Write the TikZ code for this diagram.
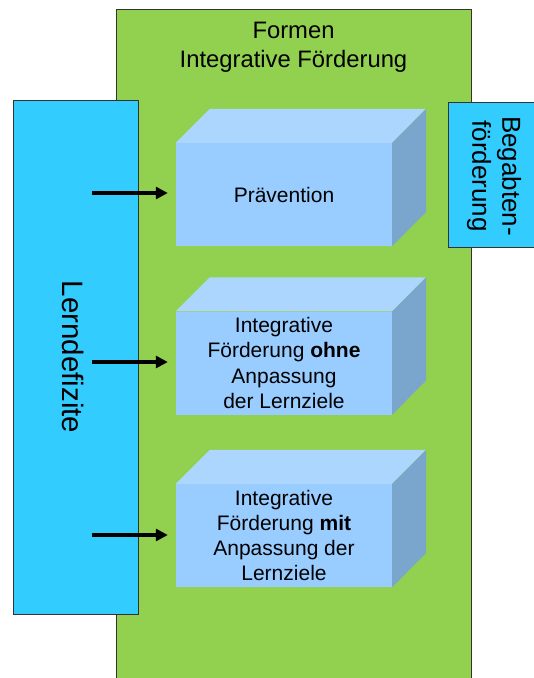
\documentclass[tikz,border=0pt]{standalone}
\usepackage{fontspec}
\setmainfont{Liberation Sans}
\usetikzlibrary{arrows.meta,positioning}
\definecolor{formgreen}{HTML}{92D050}
\definecolor{defblue}{HTML}{33CCFF}
\definecolor{boxfront}{HTML}{99CCFF}
\definecolor{boxtop}{HTML}{ADD6FF}
\definecolor{boxside}{HTML}{7AA5CC}
\begin{document}
\begin{tikzpicture}[x=1pt,y=-1pt,
  frame/.style={draw=black!80,line width=0.8pt},
  front/.style={fill=boxfront,minimum width=216pt,minimum height=103pt,inner sep=0pt,
    align=center,font=\fontsize{21}{25.3}\selectfont},
  arr/.style={line width=3.6pt,-{Triangle[length=12pt,width=12pt]},shorten >=8pt}]
\useasboundingbox (0,0) rectangle (534,678);
% green frame
\draw[frame,fill=formgreen] (116,9) rectangle (471,681);
\node[align=center,font=\fontsize{23.8}{29}\selectfont] (titel) at (293.5,47.5) {Formen\\Integrative Förderung};
% side bars
\draw[frame,fill=defblue] (13,100) rectangle (138,614);
\node[rotate=-90,font=\fontsize{29.5}{35}\selectfont] (lern) at (73,357) {Lerndefizite};
\draw[frame,fill=defblue] (448,102) rectangle (540,247);
\node[rotate=-90,align=center,font=\fontsize{26}{30}\selectfont] (begabt) at (494,176) {Begabten-\\förderung};
% boxes
\node[front] (praev) at (284,194.5) {Prävention};
\node[front] (ohne) at (284,363) {Integrative\\Förderung \textbf{ohne}\\Anpassung\\der Lernziele};
\node[front] (mit) at (284,535.5) {Integrative\\Förderung \textbf{mit}\\Anpassung der\\Lernziele};
\foreach \b in {praev,ohne,mit}{
  \fill[boxtop] (\b.north west) -- ++(34,-34) -- ++(216,0) -- (\b.north east) -- cycle;
  \fill[boxside] (\b.north east) -- ++(34,-34) -- ++(0,103) -- (\b.south east) -- cycle;
}
% arrows
\foreach \b/\y in {praev/193,ohne/362,mit/535}{
  \coordinate (s\b) at (92,\y);
  \draw[arr] (s\b) -- (s\b -| \b.west);
}
\end{tikzpicture}
\end{document}
